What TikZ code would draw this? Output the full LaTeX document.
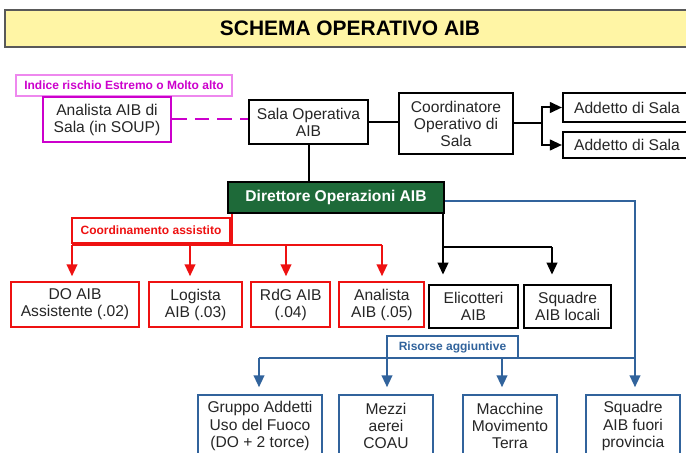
\documentclass[tikz,border=0pt]{standalone}
\usepackage{fontspec}
\setmainfont{Liberation Sans}
\usepackage{tikz}
\usetikzlibrary{arrows.meta}
\usetikzlibrary{positioning}
\definecolor{titlebg}{HTML}{FFF5A5}
\definecolor{dirgreen}{HTML}{1E6A39}
\definecolor{magline}{HTML}{CC00CC}
\definecolor{magsoft}{HTML}{EE88EE}
\definecolor{redline}{HTML}{EE1111}
\definecolor{blueline}{HTML}{31639C}
\tikzset{box/.style = {draw, line width=1.6pt, fill=white, align=center, inner sep=0, text=black!85, font=\fontsize{11.7}{12.8}\selectfont}}
\tikzset{wh/.style 2 args = {minimum width=#1*0.75pt, minimum height=#2*0.75pt}}
\tikzset{redbox/.style = {box, draw=redline}}
\tikzset{bluebox/.style = {box, draw=blueline}}
\tikzset{tag/.style = {draw, fill=white, line width=1pt, inner sep=0, font=\fontsize{9}{10}\bfseries\selectfont}}
\tikzset{conn/.style = {line width=1.5pt}}
\tikzset{arr/.style = {conn, -{Triangle[width=8pt,length=9pt]}}}

\begin{document}
\begin{tikzpicture}[x=0.75pt, y=-0.75pt]
        \useasboundingbox (0,0) rectangle (686,453);
        \clip (0,0) rectangle (686,453);
        \node [box, wh={690}{37}, fill=titlebg, draw=black!65, line width=0.8pt, text=black, font=\fontsize{15.7}{17}\bfseries\selectfont] (titolo) at (350,28.5) {SCHEMA OPERATIVO AIB};
        \node [tag, draw=magsoft, text=magline, wh={216}{21}] (indice) at (124,85.5) {Indice rischio Estremo o Molto alto};
        \node [box, draw=magline, line width=1.7pt, wh={128}{45}] (ansala) at (107,119.5) {Analista AIB di\\Sala (in SOUP)};
        \node [box, wh={119}{44}] (sala) at (308.5,122) {Sala Operativa\\AIB};
        \node [box, wh={114}{61}] (coord) at (456,123.5) {Coordinatore\\Operativo di\\Sala};
        \node [box, wh={128}{29}] (add1) at (627,107.5) {Addetto di Sala};
        \node [box, wh={128}{26}] (add2) at (627,145) {Addetto di Sala};
        \node [box, fill=dirgreen, text=white, wh={216}{31}, font=\fontsize{11.7}{12.8}\bfseries\selectfont] (dir) at (336,197.5) {Direttore Operazioni AIB};
        \node [tag, draw=redline, text=redline, line width=1.3pt, wh={158}{25}] (coordass) at (151,230.5) {Coordinamento assistito};
        \node [redbox, wh={128}{45}] (doaib) at (75,304.5) {DO AIB\\Assistente (.02)};
        \node [redbox, wh={93}{45}, right=6pt of doaib] (logista) {Logista\\AIB (.03)};
        \node [redbox, wh={79}{45}, right=5.25pt of logista] (rdg) {RdG AIB\\(.04)};
        \node [redbox, wh={85}{45}, right=5.25pt of rdg] (analista) {Analista\\AIB (.05)};
        \node [box, wh={89}{43}] (elic) at (473.5,306.5) {Elicotteri\\AIB};
        \node [box, wh={87}{43}, right=3pt of elic] (sqloc) {Squadre\\AIB locali};
        \node [tag, draw=blueline, text=blueline, line width=1.5pt, wh={131}{22}] (risorse) at (452.5,347) {Risorse aggiuntive};
        \node [bluebox, wh={124}{62}] (gruppo) at (260,426) {Gruppo Addetti\\Uso del Fuoco\\(DO + 2 torce)};
        \node [bluebox, wh={94}{62}] (mezzi) at (386,426) {Mezzi\\aerei\\COAU};
        \node [bluebox, wh={94}{62}] (macchine) at (510,426) {Macchine\\Movimento\\Terra};
        \node [bluebox, wh={94}{62}] (sqfuori) at (633,426) {Squadre\\AIB fuori\\provincia};

        \draw [magline, conn, dash pattern=on 11pt off 6pt] (ansala.east) -- (ansala.east -| sala.west);
        \draw [conn] (sala.east) -- (coord.west |- sala.east);
        \coordinate (cb) at (542,123.5);
        \draw [conn] (coord.east) -- (cb);
        \draw [arr] (cb) |- (add1.west);
        \draw [arr] (cb) |- (add2.west);
        \draw [conn] (sala.south) -- (dir.north -| sala.south);

        \coordinate (kb) at (443,247);
        \coordinate (kc) at (552,247);
        \draw [conn] (dir.south -| kb) -- (kb) -- (kc);
        \draw [arr, shorten >=7pt] (kb) -- (kb |- elic.north);
        \draw [arr, shorten >=7pt] (kc) -- (kc |- sqloc.north);

        \coordinate (rb) at (232,245);
        \coordinate (r1) at (72,245);
        \coordinate (r2) at (190,245);
        \coordinate (r3) at (286,245);
        \coordinate (r4) at (382,245);
        \draw [redline, conn] (dir.south -| rb) -- (rb);
        \draw [redline, conn] (r1) -- (r4);
        \foreach \n/\b in {r1/doaib, r2/logista, r3/rdg, r4/analista}
            \draw [redline, arr, shorten >=3.5pt] (\n) -- (\n |- \b.north);

        \coordinate (b1) at (259,358);
        \coordinate (b2) at (387,358);
        \coordinate (b3) at (502,358);
        \coordinate (b4) at (635,358);
        \draw [blueline, conn] ([yshift=-2.6pt]dir.east) -| (b4) -- (b1);
        \foreach \n/\b in {b1/gruppo, b2/mezzi, b3/macchine, b4/sqfuori}
            \draw [blueline, arr, shorten >=5pt] (\n) -- (\n |- \b.north);
    \end{tikzpicture}
\end{document}
